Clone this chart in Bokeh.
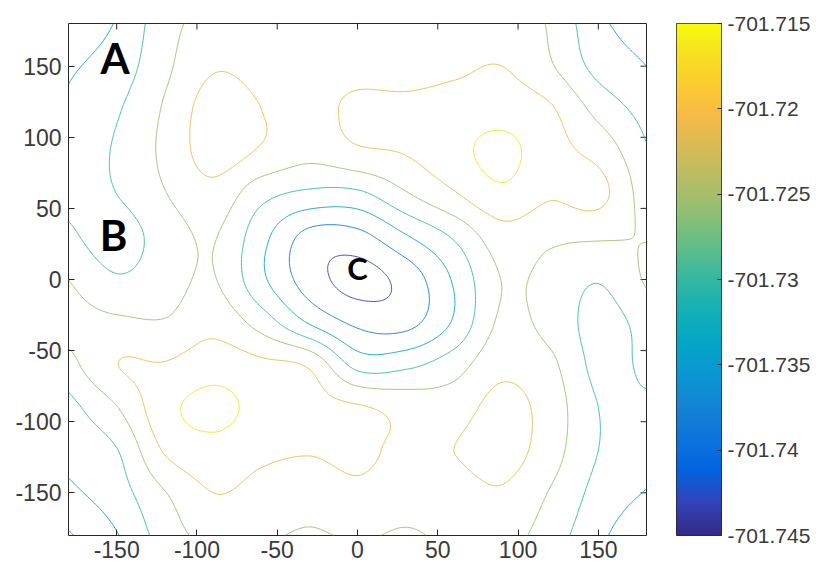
import numpy as np
from bokeh.plotting import figure
from bokeh.layouts import row
from bokeh.models import LinearAxis, FixedTicker, LinearColorMapper, CustomJSTickFormatter, Range1d
from bokeh.core.properties import value
from bokeh.embed import file_html
from bokeh.resources import INLINE

# ---------------- data ----------------
phi = [-180, -150, -120, -90, -60, -30, 0, 30, 60, 90, 120, 150, 180]
psi = [-180, -150, -120, -90, -60, -30, 0, 30, 60, 90, 120, 150, 180]
energy_floor = -701.745
energy_ceiling = -701.715
# energy above energy_floor (in 1e-3 units), one row per psi, phi left to right
e_psi_m180 = [5.5, 10.2, 17.0, 21.0, 20.2, 19.0, 20.0, 19.0, 20.5, 21.3, 17.2, 11.6, 6.5]
e_psi_m150 = [9.5, 13.0, 19.3, 24.0, 22.5, 21.5, 23.0, 21.5, 22.0, 23.5, 19.2, 13.5, 10.2]
e_psi_m120 = [11.9, 14.8, 24.5, 27.0, 25.0, 24.3, 25.0, 23.0, 24.0, 26.0, 21.5, 15.0, 12.8]
e_psi_m90 = [13.5, 19.3, 27.0, 29.8, 27.0, 25.5, 24.5, 22.5, 22.0, 25.5, 22.0, 15.0, 14.3]
e_psi_m60 = [18.0, 23.9, 24.3, 26.5, 25.0, 23.3, 13.5, 14.0, 17.5, 22.8, 20.5, 13.8, 15.8]
e_psi_m30 = [21.0, 20.3, 19.8, 22.5, 17.5, 10.0, 5.0, 4.5, 11.0, 20.3, 18.0, 13.5, 16.5]
e_psi_0 = [19.5, 15.5, 17.5, 19.8, 11.5, 3.8, 0.0, 3.2, 11.0, 19.6, 18.2, 15.3, 20.0]
e_psi_p30 = [15.8, 13.0, 17.0, 19.8, 12.0, 4.5, 4.5, 10.0, 15.5, 22.0, 20.3, 20.0, 19.3]
e_psi_p60 = [14.0, 15.0, 19.3, 22.5, 16.5, 14.0, 14.0, 19.0, 23.5, 27.5, 24.5, 25.3, 17.0]
e_psi_p90 = [12.6, 15.5, 20.5, 26.0, 23.5, 21.0, 23.3, 24.3, 27.0, 29.8, 25.5, 22.5, 15.4]
e_psi_p120 = [11.3, 14.5, 20.0, 26.0, 24.0, 22.5, 25.0, 25.2, 26.0, 26.5, 24.5, 18.0, 13.2]
e_psi_p150 = [9.9, 12.5, 18.5, 23.5, 22.5, 22.0, 22.3, 21.8, 23.0, 24.0, 20.0, 13.5, 10.5]
e_psi_p180 = [8.5, 10.8, 17.8, 21.0, 21.0, 21.0, 21.5, 21.0, 21.0, 21.5, 19.0, 11.5, 8.5]

contour_levels = [-701.7435, -701.739, -701.7345, -701.730, -701.7255, -701.721, -701.7165]
cbar_ticks = [-701.745, -701.74, -701.735, -701.73, -701.725, -701.72, -701.715]
x_ticks = [-150, -100, -50, 0, 50, 100, 150]
y_ticks = [-150, -100, -50, 0, 50, 100, 150]
x_edge = 180
y_edge = 180

big_labels = ["A", "B"]
big_label_x = [-151, -152]
big_label_y = [156, 31]
small_labels = ["C"]
small_label_x = [0]
small_label_y = [8]

# ---------------- parula colormap ----------------
parula_pos = [0, 4, 8, 12, 16, 20, 24, 28, 32, 36, 40, 44, 48, 52, 56, 60, 63]
parula_rgb = [
    (0.2081, 0.1663, 0.5292), (0.1959, 0.2645, 0.7279), (0.0117, 0.3875, 0.8820),
    (0.0498, 0.4586, 0.8641), (0.0793, 0.5200, 0.8312), (0.0343, 0.5966, 0.8199),
    (0.0228, 0.6535, 0.7768), (0.0843, 0.6928, 0.7062), (0.2178, 0.7250, 0.6193),
    (0.3953, 0.7459, 0.5244), (0.5709, 0.7485, 0.4494), (0.7184, 0.7411, 0.3905),
    (0.8507, 0.7299, 0.3360), (0.9739, 0.7314, 0.2666), (0.9880, 0.8066, 0.1794),
    (0.9589, 0.8949, 0.1132), (0.9763, 0.9831, 0.0538)]
pp = np.array(parula_pos) / 63.0
prgb = np.array(parula_rgb)


def parula(t):
    t = np.clip(t, 0, 1)
    r = np.interp(t, pp, prgb[:, 0])
    g = np.interp(t, pp, prgb[:, 1])
    b = np.interp(t, pp, prgb[:, 2])
    return "#%02x%02x%02x" % (int(round(r * 255)), int(round(g * 255)), int(round(b * 255)))


palette = [parula(t) for t in np.linspace(0, 1, 256)]
line_colors = [parula((lv - energy_floor) / (energy_ceiling - energy_floor)) for lv in contour_levels]

# ---------------- smooth the read grid (Catmull-Rom) ----------------
V = np.array([e_psi_m180, e_psi_m150, e_psi_m120, e_psi_m90, e_psi_m60, e_psi_m30, e_psi_0,
              e_psi_p30, e_psi_p60, e_psi_p90, e_psi_p120, e_psi_p150, e_psi_p180])


def cr_matrix(n, m):
    u = np.linspace(0, n - 1, m)
    i = np.clip(np.floor(u).astype(int), 0, n - 2)
    t = u - i
    W = np.zeros((m, n + 2))
    ws = [(-t**3 + 2 * t**2 - t) / 2, (3 * t**3 - 5 * t**2 + 2) / 2,
          (-3 * t**3 + 4 * t**2 + t) / 2, (t**3 - t**2) / 2]
    rows = np.arange(m)
    for k, w in enumerate(ws):
        np.add.at(W, (rows, i + k), w)
    G = np.zeros((n + 2, n))
    G[1:n + 1] = np.eye(n)
    G[0, 0], G[0, 1] = 2, -1
    G[n + 1, n - 1], G[n + 1, n - 2] = 2, -1
    return W @ G


nf = 361
Mx = cr_matrix(len(phi), nf)
My = cr_matrix(len(psi), nf)
Zf = energy_floor + (My @ V @ Mx.T) / 1000.0
xf = np.linspace(phi[0], phi[-1], nf)
yf = np.linspace(psi[0], psi[-1], nf)

# ---------------- main plot ----------------
FONT = "Liberation Sans"
AX = "#262626"
LBL = "#3a3a3a"
plain = CustomJSTickFormatter(code="return tick.toString();")

p = figure(width=648, height=566, x_range=Range1d(-180, 180), y_range=Range1d(-180, 180),
           output_backend="svg", toolbar_location=None,
           min_border_left=68, min_border_right=2, min_border_top=21, min_border_bottom=31)
p.grid.visible = False
p.outline_line_color = AX
p.outline_line_width = 1
p.background_fill_color = "white"
p.border_fill_color = "white"

p.xaxis.ticker = FixedTicker(ticks=x_ticks)
p.yaxis.ticker = FixedTicker(ticks=y_ticks)
for ax in list(p.xaxis) + list(p.yaxis):
    ax.formatter = plain
    ax.major_tick_in = 6
    ax.major_tick_out = 0
    ax.minor_tick_line_color = None
    ax.axis_line_color = None
    ax.major_tick_line_color = AX
    ax.major_label_text_font = FONT
    ax.major_label_text_font_size = "23px"
    ax.major_label_text_color = LBL
p.xaxis.major_label_standoff = 5
p.yaxis.major_label_standoff = 7

# mirrored inward ticks on the top and right edges of the box
p.ray(x=x_ticks, y=[y_edge] * len(x_ticks), length=6, angle=-np.pi / 2,
      length_units="screen", line_color=AX, line_width=1)
p.ray(x=[x_edge] * len(y_ticks), y=y_ticks, length=6, angle=np.pi,
      length_units="screen", line_color=AX, line_width=1)

p.contour(x=xf, y=yf, z=Zf, levels=contour_levels, line_color=line_colors,
          line_width=1.0, line_alpha=0.9)

p.text(x=big_label_x, y=big_label_y, text=big_labels, text_font=value("Lato"),
       text_font_style="bold", text_font_size="42px", text_color="black",
       text_align="center", text_baseline="middle")
p.text(x=small_label_x, y=small_label_y, text=small_labels, text_font=value("Lato"),
       text_font_style="bold", text_font_size="31px", text_color="black",
       text_align="center", text_baseline="middle")

# ---------------- colour bar ----------------
mapper = LinearColorMapper(palette=palette, low=energy_floor, high=energy_ceiling)
cb = figure(width=168, height=566, x_range=Range1d(0, 1),
            y_range=Range1d(energy_floor, energy_ceiling),
            output_backend="svg", toolbar_location=None,
            x_axis_location=None, y_axis_location=None,
            min_border_left=28, min_border_right=95, min_border_top=23, min_border_bottom=29)
cb.grid.visible = False
cb.outline_line_color = AX
cb.border_fill_color = "white"
gradient = np.linspace(energy_floor, energy_ceiling, 256).reshape(256, 1)
cb.image(image=[gradient], x=0, y=energy_floor, dw=1, dh=energy_ceiling - energy_floor,
         color_mapper=mapper)
cb_ax = LinearAxis(ticker=FixedTicker(ticks=cbar_ticks),
                   formatter=CustomJSTickFormatter(code="return tick.toFixed(3).replace(/0+$/, '');"),
                   major_tick_in=4, major_tick_out=0, axis_line_color=None,
                   minor_tick_line_color=None, major_tick_line_color=AX,
                   major_label_text_font=FONT, major_label_text_font_size="21px",
                   major_label_text_color=LBL, major_label_standoff=6)
cb.add_layout(cb_ax, "right")

layout = row(p, cb)
open("out.html", "w").write(file_html(layout, INLINE))
